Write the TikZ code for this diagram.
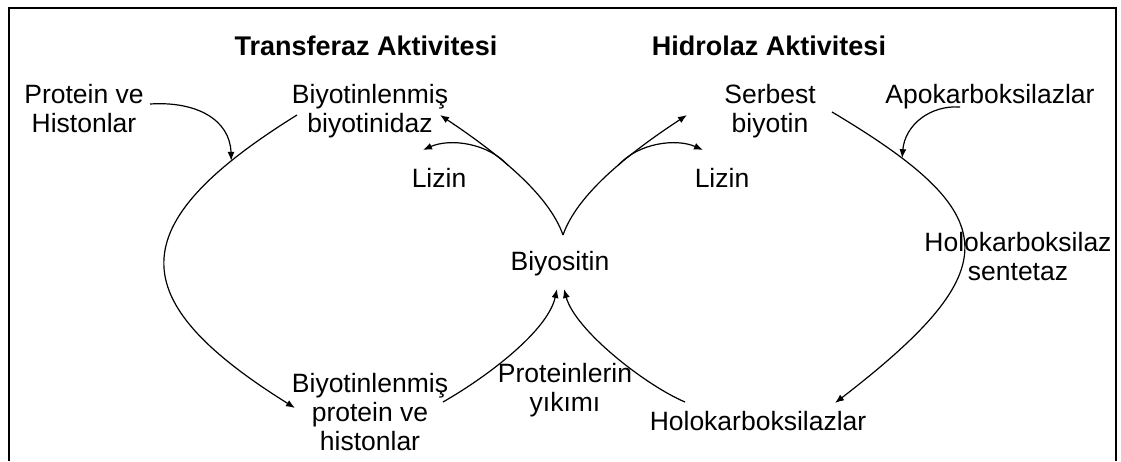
\documentclass[tikz,border=0pt]{standalone}
\usepackage{fontspec}
\setmainfont{Liberation Sans}
\usetikzlibrary{arrows.meta}
\begin{document}
\begin{tikzpicture}[x=1pt,y=-1pt,
  lbl/.style={inner sep=0pt,anchor=base,align=center,font=\fontsize{26.5}{29}\selectfont},
  ttl/.style={inner sep=0pt,anchor=base,font=\fontsize{27}{30}\selectfont\bfseries},
  conn/.style={line width=1.2pt},
  arr/.style={conn,-{Latex[length=9pt,width=7pt]}}]
\useasboundingbox (0,0) rectangle (1121,461);
\draw[line width=2.5pt] (9,461) -- (9,8) -- (1116,8) -- (1116,461);
% texts (base anchor = baseline of last line)
\node[ttl] (t1) at (366,55) {Transferaz Aktivitesi};
\node[ttl] (t2) at (769,55) {Hidrolaz Aktivitesi};
\node[lbl] (pv) at (84,132) {Protein ve\\Histonlar};
\node[lbl] (bb) at (370,132) {Biyotinlenmiş\\biyotinidaz};
\node[lbl] (sb) at (770,132) {Serbest\\biyotin};
\node[lbl] (apo) at (990,103) {Apokarboksilazlar};
\node[lbl] (lz1) at (439,187) {Lizin};
\node[lbl] (lz2) at (722,187) {Lizin};
\node[lbl] (bs) at (560,270) {Biyositin};
\node[lbl] (hs) at (1018,280) {Holokarboksilaz\\sentetaz};
\node[lbl] (bp) at (370,450) {Biyotinlenmiş\\protein ve\\histonlar};
\node[lbl] (py) at (565,411) {Proteinlerin\\yıkımı};
\node[lbl] (hk) at (758,430) {Holokarboksilazlar};
% connector ends
\coordinate (pvE) at (150,104);
\coordinate (bbS) at (297,115);
\coordinate (bpA) at (295,408);
\coordinate (bpE) at (443,402);
\coordinate (bsB1) at (557,289);
\coordinate (bsB2) at (564,289);
\coordinate (hkS) at (685,402);
\coordinate (bsT) at (563,235);
\coordinate (bbA) at (440,115);
\coordinate (lz1A) at (423,150);
\coordinate (sbA) at (687,115);
\coordinate (lz2A) at (703,150);
\coordinate (sbE) at (832,112);
\coordinate (hkA) at (835,403);
\coordinate (apoS) at (960,107);
% left cycle
\draw[arr] (bbS) .. controls (120,225) and (122,300) .. (bpA)
  coordinate[pos=0.145] (onL);
\draw[arr] (pvE) .. controls (197,101) and (230,120) .. (onL);
\draw[arr] (bpE) .. controls (490,375) and (548,330) .. (bsB1);
\draw[arr] (bsT) .. controls (549,195) and (500,155) .. (bbA)
  coordinate[pos=0.58] (brL);
\draw[arr] (brL) .. controls (488,143) and (450,138) .. (lz1A);
% right cycle
\draw[arr] (bsT) .. controls (577,195) and (626,155) .. (sbA)
  coordinate[pos=0.58] (brR);
\draw[arr] (brR) .. controls (638,143) and (676,138) .. (lz2A);
\draw[arr] (sbE) .. controls (1005,215) and (1010,268) .. (hkA)
  coordinate[pos=0.16] (onR);
\draw[arr] (apoS) .. controls (930,105) and (905,125) .. (onR);
\draw[arr] (hkS) .. controls (645,385) and (575,330) .. (bsB2);
\end{tikzpicture}
\end{document}
